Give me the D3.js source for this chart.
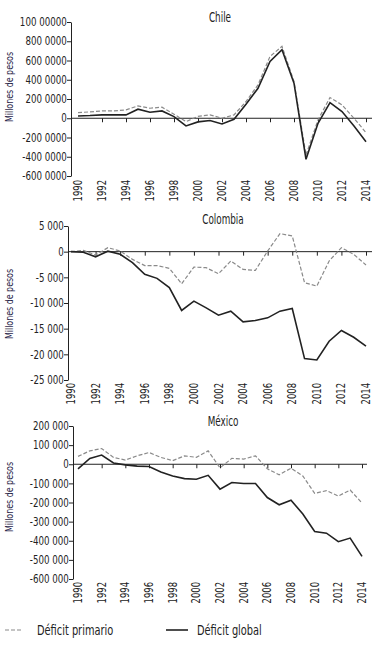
<!doctype html>
<html>
<head>
<meta charset="utf-8">
<title>Déficit primario y global</title>
<script src="https://cdnjs.cloudflare.com/ajax/libs/d3/7.8.5/d3.min.js"></script>
<style>
  body { margin: 0; background: #fff; }
  svg text { font-family: "Liberation Sans Narrow", "DejaVu Sans Condensed", "DejaVu Sans", sans-serif; font-stretch: condensed; fill: #222; }
</style>
</head>
<body>
<div id="chart"></div>
<script>
  // data (millones de pesos)
  const years = [1990,1991,1992,1993,1994,1995,1996,1997,1998,1999,2000,2001,2002,2003,2004,2005,2006,2007,2008,2009,2010,2011,2012,2013,2014];
  const labelYears = [1990,1992,1994,1996,1998,2000,2002,2004,2006,2008,2010,2012,2014];

  const chilePrimario = [59000,66000,76000,76000,87000,128000,104000,115000,42000,-35000,20000,35000,0,35000,174000,347000,642000,747000,382000,-382000,-17000,215000,139000,0,-149000];
  const chileGlobal   = [24000,28000,35000,35000,35000,94000,62000,76000,17000,-80000,-38000,-24000,-59000,-10000,146000,312000,590000,712000,365000,-427000,-52000,163000,69000,-80000,-243000];
  const chileTicks  = [1000000,800000,600000,400000,200000,0,-200000,-400000,-600000];
  const chileTickLabels = ["100 00000","800 0000","600 0000","400 0000","200 0000","0","-200 0000","-400 0000","-600 0000"];

  const colombiaPrimario = [0,260,-650,780,130,-1500,-2700,-2700,-3250,-6250,-3000,-3120,-4300,-1820,-3450,-3650,130,3520,3060,-6050,-6700,-1820,780,-520,-2600];
  const colombiaGlobal   = [0,-100,-1000,100,-500,-2150,-4400,-5200,-7000,-11450,-9630,-10940,-12370,-11590,-13670,-13410,-12890,-11590,-11070,-20830,-21090,-17450,-15360,-16670,-18420];
  const colombiaTicks = [5000,0,-5000,-10000,-15000,-20000,-25000];
  const colombiaTickLabels = ["5 000","0","-5 000","-10 000","-15 000","-20 000","-25 000"];

  const mexicoPrimario = [41000,70000,82000,36000,22000,44000,61500,36000,19000,44000,36000,70000,-18800,30800,27000,44000,-24000,-55000,-20500,-61500,-152000,-138000,-166000,-135000,-203000];
  const mexicoGlobal   = [-24000,30800,47900,6800,-3400,-10000,-12000,-41000,-61500,-75000,-78600,-58000,-130000,-95700,-100800,-100800,-174000,-212000,-188000,-260000,-352000,-360600,-405000,-386000,-482000];
  const mexicoTicks = [200000,100000,0,-100000,-200000,-300000,-400000,-500000,-600000];
  const mexicoTickLabels = ["200 000","100 000","0","-100 000","-200 000","-300 000","-400 000","-500 000","-600 000"];

  const seriesNames = ["Déficit primario", "Déficit global"];

  // layout of the three panels
  const panels = [
    { title: "Chile", primario: chilePrimario, global: chileGlobal, ticks: chileTicks, tickLabels: chileTickLabels,
      axisX: 71, xRange: [78, 366], yRange: [176, 22], right: 372, titleX: 220, titleY: 22, labelY: 87, yearY: 180 },
    { title: "Colombia", primario: colombiaPrimario, global: colombiaGlobal, ticks: colombiaTicks, tickLabels: colombiaTickLabels,
      axisX: 68, xRange: [71, 366], yRange: [380, 226], right: 372, titleX: 223, titleY: 224, labelY: 304, yearY: 383 },
    { title: "México", primario: mexicoPrimario, global: mexicoGlobal, ticks: mexicoTicks, tickLabels: mexicoTickLabels,
      axisX: 73, xRange: [78, 362], yRange: [579, 426], right: 367, titleX: 223, titleY: 426, labelY: 497, yearY: 582 }
  ];

  const svg = d3.select('#chart')
    .append('svg')
    .attr('width', 391)
    .attr('height', 650);

  panels.forEach(function(p) {
    const ext = d3.extent(p.ticks);
    const x = d3.scaleLinear().domain([years[0], years[years.length - 1]]).range(p.xRange);
    const y = d3.scaleLinear().domain(ext).range(p.yRange);
    const g = svg.append('g');

    // y axis
    const yAxis = d3.axisLeft(y)
      .tickValues(p.ticks)
      .tickSize(4)
      .tickSizeOuter(0)
      .tickPadding(1)
      .tickFormat(function(d, i) { return p.tickLabels[i]; });
    const ya = g.append('g').attr('transform', 'translate(' + p.axisX + ',0)').call(yAxis);
    ya.selectAll('path, line').attr('stroke', '#222');
    ya.selectAll('text')
      .style('font-size', '11.5px')
      .attr('transform', 'scale(0.84,1)');

    // zero line with year ticks
    g.append('line')
      .attr('x1', p.axisX).attr('x2', p.right)
      .attr('y1', y(0)).attr('y2', y(0))
      .attr('stroke', '#222').attr('stroke-width', 1);
    const xAxis = d3.axisBottom(x)
      .tickValues(labelYears.slice(1))
      .tickSize(4)
      .tickFormat('');
    const xa = g.append('g').attr('transform', 'translate(0,' + y(0) + ')').call(xAxis);
    xa.select('.domain').remove();
    xa.selectAll('line').attr('stroke', '#222');

    // year labels, rotated
    g.selectAll('.year')
      .data(labelYears)
      .join('text')
      .attr('class', 'year')
      .attr('transform', function(d) { return 'translate(' + (x(d) + 4) + ',' + p.yearY + ') rotate(-90) scale(0.78,1)'; })
      .attr('text-anchor', 'end')
      .style('font-size', '12px')
      .text(function(d) { return d; });

    // lines
    const line = d3.line()
      .x(function(d, i) { return x(years[i]); })
      .y(function(d) { return y(d); });

    g.append('path')
      .datum(p.primario)
      .attr('d', line)
      .attr('fill', 'none')
      .attr('stroke', '#8a8a8a')
      .attr('stroke-width', 1.2)
      .attr('stroke-dasharray', '4,2');

    g.append('path')
      .datum(p.global)
      .attr('d', line)
      .attr('fill', 'none')
      .attr('stroke', '#222')
      .attr('stroke-width', 1.6);

    // title
    g.append('text')
      .attr('transform', 'translate(' + p.titleX + ',' + p.titleY + ') scale(0.7,1)')
      .attr('text-anchor', 'middle')
      .style('font-size', '14px')
      .text(p.title);

    // y label
    g.append('text')
      .attr('transform', 'translate(13,' + p.labelY + ') rotate(-90) scale(0.8,1)')
      .attr('text-anchor', 'middle')
      .style('font-size', '11px')
      .style('fill', '#2a2448')
      .text('Millones de pesos');
  });

  // legend
  const legend = svg.append('g').attr('transform', 'translate(0,630)');
  legend.append('line')
    .attr('x1', 5).attr('x2', 23).attr('y1', 0).attr('y2', 0)
    .attr('stroke', '#8a8a8a').attr('stroke-width', 1.2).attr('stroke-dasharray', '4,2');
  legend.append('text')
    .attr('transform', 'translate(37,5) scale(0.78,1)')
    .style('font-size', '14px')
    .text(seriesNames[0]);
  legend.append('line')
    .attr('x1', 166).attr('x2', 188).attr('y1', 0).attr('y2', 0)
    .attr('stroke', '#222').attr('stroke-width', 1.6);
  legend.append('text')
    .attr('transform', 'translate(197,5) scale(0.78,1)')
    .style('font-size', '14px')
    .text(seriesNames[1]);
</script>
</body>
</html>
